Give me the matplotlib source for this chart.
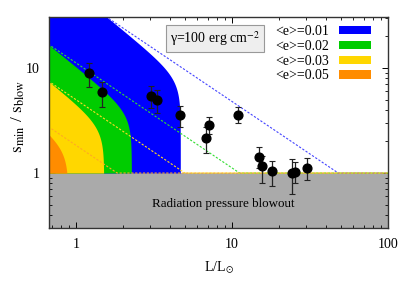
import numpy as np
import matplotlib
matplotlib.use("Agg")
import matplotlib.pyplot as plt
from matplotlib.patches import Patch

plt.rcParams['font.family'] = ['Liberation Serif', 'DejaVu Serif']
plt.rcParams['mathtext.fontset'] = 'stix'

# ---- data ----
ecc_labels = ['<e>=0.01', '<e>=0.02', '<e>=0.03', '<e>=0.05']
region_colors = ['#0000ff', '#00cc00', '#ffd700', '#ff8c00']
line_colors = ['#4444ff', '#33dd33', '#ffdd22', '#ffaa22']
# dashed-line normalisation: s_min/s_blow = A / L
line_A = [48.0, 11.2, 5.0, 1.84]
# shaded regions: luminosity cut-off, corner level and edge slope
region_Lc = [4.67, 2.27, 1.51, 0.89]
region_sc = [8.13, 3.84, 2.81, 1.76]
region_slope = [1.22, 1.2, 1.2, 1.2]

star_L = [1.21, 1.47, 3.05, 3.33, 4.64, 6.86, 7.14, 10.9, 14.9, 15.5, 18.0, 24.2, 25.2, 30.3]
star_s = [8.9, 5.87, 5.41, 4.92, 3.53, 2.17, 2.86, 3.57, 1.43, 1.16, 1.04, 0.99, 1.03, 1.12]
star_hi = [11.1, 7.4, 6.74, 6.17, 4.35, 2.76, 3.44, 4.22, 1.76, 1.45, 1.31, 1.37, 1.28, 1.38]
star_lo = [6.55, 4.28, 4.19, 3.73, 2.76, 1.56, 2.35, 2.97, 1.11, 0.81, 0.75, 0.63, 0.80, 0.85]

xlim = (0.673, 100)
ylim = (0.3, 30.5)

fig = plt.figure(figsize=(4.15, 2.91), dpi=100)
ax = fig.add_axes([0.118, 0.2165, 0.817, 0.725])
ax.set_xscale('log')
ax.set_yscale('log')
ax.set_xlim(*xlim)
ax.set_ylim(*ylim)

# blowout region
ax.fill_between([0.1, 1000], [0.1, 0.1], [1, 1], color='#aaaaaa', zorder=1, lw=0)
ax.text(0.513, 0.114, 'Radiation pressure blowout', transform=ax.transAxes,
        ha='center', va='center', fontsize=9.4)

# shaded regions
w = 0.1
Yg = np.linspace(0, np.log10(ylim[1]) + 0.2, 500)
for Lc, sc, s, c in zip(region_Lc, region_sc, region_slope, region_colors):
    Xc = np.log10(Lc)
    Yc = np.log10(sc)
    Xb = Xc - (w / s) * np.logaddexp(0, (Yg - Yc) / w)
    ax.fill_betweenx(10**Yg, 0.1, 10**Xb, color=c, lw=0, zorder=2)

# dashed lines
Lgrid = np.logspace(np.log10(0.5), np.log10(120), 300)
for A, c in zip(line_A, line_colors):
    ax.plot(Lgrid, np.maximum(A / Lgrid, 1.0), color=c, lw=0.8,
            ls=(0, (2, 1.5)), zorder=3)

# stars
star_L = np.array(star_L); star_s = np.array(star_s)
yerr = np.vstack([star_s - np.array(star_lo), np.array(star_hi) - star_s])
ax.errorbar(star_L, star_s, yerr=yerr, fmt='o', color='black', ms=6.3,
            ecolor='#222222', elinewidth=0.9, capsize=2, capthick=0.8, zorder=5)

# gamma box
ax.text(0.49, 0.898, 'γ=100 erg cm$^{-2}$', transform=ax.transAxes, ha='center',
        va='center', fontsize=10,
        bbox=dict(boxstyle='square,pad=0.3', facecolor='#eeeeee', edgecolor='#999999', lw=0.8))

# legend
handles = [Patch(facecolor=c, edgecolor='none') for c in region_colors]
leg = ax.legend(handles, ecc_labels, loc='upper right', markerfirst=False, frameon=False,
                bbox_to_anchor=((371 - 49) / 339, (228 - 25) / 211), borderaxespad=0,
                borderpad=0, handlelength=2.3, handleheight=0.55, labelspacing=0.13,
                handletextpad=0.75, fontsize=10)

ax.set_xticks([1, 10, 100])
ax.set_xticklabels(['1', '10', '100'])
ax.set_yticks([1, 10])
ax.set_yticklabels(['1', '10'])
ax.tick_params(which='both', direction='in', top=True, right=True, labelsize=10)
ax.tick_params(which='major', length=4, pad=7, width=0.7)
ax.tick_params(which='minor', length=2, width=0.6)
for sp in ax.spines.values():
    sp.set_color('#333333')
    sp.set_linewidth(1.0)
    sp.set_zorder(6)

ax.set_xlabel(r'L/L$_{\odot}$', fontsize=10, labelpad=6)
ax.set_ylabel(r'$\mathrm{s}_{\mathrm{min}}$ / $\mathrm{s}_{\mathrm{blow}}$', fontsize=12.5)
ax.yaxis.set_label_coords(-0.066, 0.53)

fig.savefig('out.png', dpi=100)
